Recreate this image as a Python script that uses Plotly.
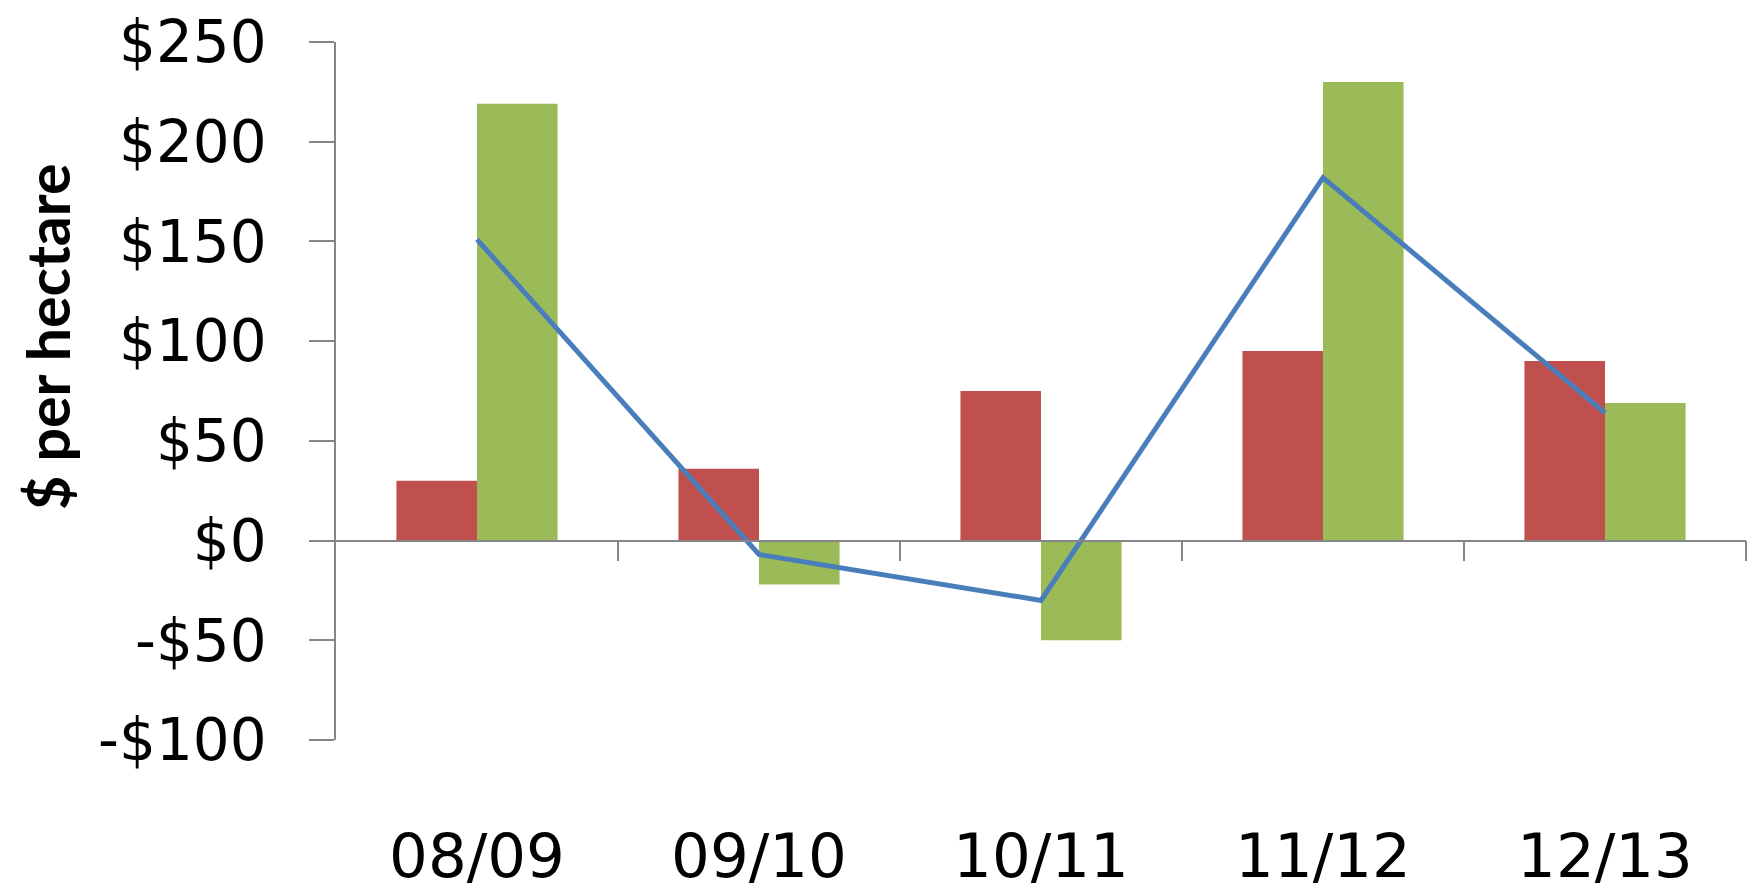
import plotly.graph_objects as go

categories = ["08/09", "09/10", "10/11", "11/12", "12/13"]
red_values = [30, 36, 75, 95, 90]
green_values = [219, -22, -50, 230, 69]
line_values = [151, -7, -30, 182, 64]
y_tick_values = [-100, -50, 0, 50, 100, 150, 200, 250]
y_tick_labels = ["-$100", "-$50", "$0", "$50", "$100", "$150", "$200", "$250"]
y_title = "$ per hectare"

RED = "#C0504D"
GREEN = "#9BBB59"
BLUE = "#4A7EBB"
AXIS = "#868686"
X_FONT = dict(family="DejaVu Sans", size=61, color="#000000")
Y_FONT = dict(family="DejaVu Sans", size=58, color="#000000")

xpos = list(range(len(categories)))
boundaries = [i + 0.5 for i in xpos]

fig = go.Figure()
fig.add_trace(go.Bar(x=xpos, y=red_values, marker=dict(color=RED, line=dict(width=0)), name="A"))
fig.add_trace(go.Bar(x=xpos, y=green_values, marker=dict(color=GREEN, line=dict(width=0)), name="B"))
fig.add_trace(go.Scatter(x=xpos, y=line_values, mode="lines", line=dict(color=BLUE, width=5), name="C"))
# invisible trace to carry the label axis
fig.add_trace(go.Scatter(x=xpos, y=[None] * len(xpos), xaxis="x2", mode="lines",
                         showlegend=False, hoverinfo="skip"))

y_min, y_max = y_tick_values[0], y_tick_values[-1]
zero_pos = (0 - y_min) / (y_max - y_min)

# the page body adds an 8px offset, so the figure is 8px smaller than the window
fig.update_layout(
    width=1752, height=884,
    paper_bgcolor="white", plot_bgcolor="white",
    margin=dict(l=328, r=14, t=34, b=152),
    showlegend=False,
    barmode="group", bargap=3 / 7, bargroupgap=0,
    xaxis=dict(
        range=[-0.5, len(categories) - 0.5], anchor="free", position=zero_pos,
        showline=True, linecolor=AXIS, linewidth=1.5,
        ticks="outside", tickvals=boundaries, ticklen=20, tickcolor=AXIS, tickwidth=1.5,
        showticklabels=False, showgrid=False, zeroline=False, automargin=False,
    ),
    xaxis2=dict(
        range=[-0.5, len(categories) - 0.5], overlaying="x", anchor="y", side="bottom",
        tickvals=xpos, ticktext=categories, ticks="outside", ticklen=63,
        tickcolor="rgba(0,0,0,0)", showline=False, showgrid=False, zeroline=False,
        tickfont=X_FONT, automargin=False, ticklabeloverflow="allow",
    ),
    yaxis=dict(
        range=[y_min, y_max], tickvals=y_tick_values, ticktext=y_tick_labels,
        showline=True, linecolor=AXIS, linewidth=1.5,
        ticks="outside", ticklen=25, tickcolor=AXIS, tickwidth=1.5,
        ticklabelstandoff=31, ticklabeloverflow="allow",
        showgrid=False, zeroline=False, tickfont=Y_FONT, automargin=False,
    ),
    annotations=[dict(
        text="<b>" + y_title + "</b>", textangle=-90,
        xref="paper", yref="paper", x=0, y=(740 - 337) / 698,
        xshift=-289, xanchor="center", yanchor="middle", showarrow=False,
        font=dict(family="Lato", size=59, color="#000000"),
    )],
)

fig.write_html("out.html")
